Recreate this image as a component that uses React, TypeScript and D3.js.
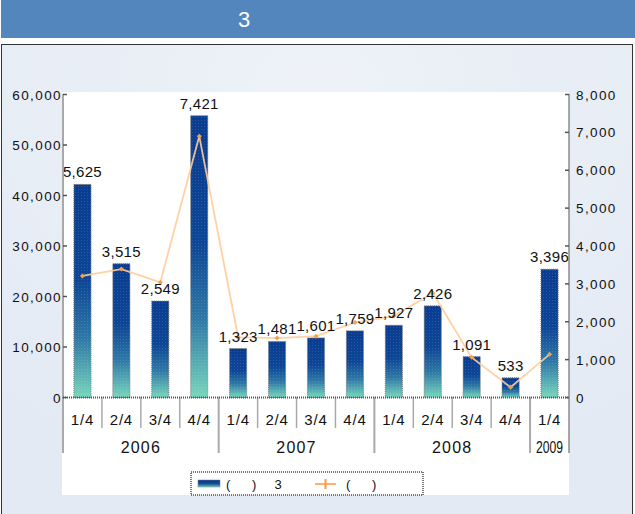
import React from 'react';
import * as d3 from 'd3';

// quarter and year of each category on the x axis
const quarterLabels = ['1/4', '2/4', '3/4', '4/4', '1/4', '2/4', '3/4', '4/4', '1/4', '2/4', '3/4', '4/4', '1/4'];
const yearLabels = ['2006', '2006', '2006', '2006', '2007', '2007', '2007', '2007', '2008', '2008', '2008', '2008', '2009'];

// bars (left axis) and the numbers printed above them
const barValues = [42200, 26500, 19100, 55800, 9700, 11100, 11800, 13200, 14300, 18150, 8100, 3900, 25400];
const barLabels = ['5,625', '3,515', '2,549', '7,421', '1,323', '1,481', '1,601', '1,759', '1,927', '2,426', '1,091', '533', '3,396'];

// line (right axis)
const lineValues = [3210, 3390, 3040, 6900, 1590, 1570, 1620, 1980, 2150, 2760, 1060, 270, 1140];

const leftTicks = [0, 10000, 20000, 30000, 40000, 50000, 60000];
const rightTicks = [0, 1000, 2000, 3000, 4000, 5000, 6000, 7000, 8000];
const legendLabels = ['(      )     3', '(      )'];
const title = '3';

const W = 635;
const H = 514;
const font = '"Liberation Sans", Arial, sans-serif';
const axisColor = '#555';

export default function App() {
  const idx = quarterLabels.map((_, i) => i);
  const x = d3.scaleBand<number>().domain(idx).range([63, 569]).paddingInner(0.56).paddingOuter(0.28);
  const band = x.step();
  const left = 63;
  const right = 569;
  const yL = d3.scaleLinear().domain([0, 60000]).range([397.5, 94.5]);
  const yR = d3.scaleLinear().domain([0, 8000]).range([397.5, 94.5]);
  const fmt = d3.format(',');

  const line = d3
    .line<number>()
    .x((_, i) => (x(i) as number) + x.bandwidth() / 2)
    .y((d) => yR(d));

  // group categories by year for the lower axis row
  const groups: { year: string; start: number; end: number }[] = [];
  yearLabels.forEach((yr, i) => {
    const g = groups[groups.length - 1];
    if (g && g.year === yr) g.end = i;
    else groups.push({ year: yr, start: i, end: i });
  });
  const edge = (i: number) => left + band * i;

  return (
    <svg width={W} height={H} style={{ position: 'absolute', left: 0, top: 0 }} fontFamily={font}>
      <defs>
        <linearGradient id="barGrad" x1="0" y1="0" x2="0" y2="1">
          <stop offset="0%" stopColor="#0a3c90" />
          <stop offset="45%" stopColor="#0d4696" />
          <stop offset="72%" stopColor="#2f78a6" />
          <stop offset="100%" stopColor="#78d6bd" />
        </linearGradient>
        <pattern id="dots" width="3" height="3" patternUnits="userSpaceOnUse">
          <rect x="0" y="0" width="1" height="1" fill="#ffffff" opacity="0.12" />
        </pattern>
        <radialGradient id="panelGrad" cx="0.5" cy="0.1" r="0.8">
          <stop offset="0%" stopColor="#eef2f8" />
          <stop offset="100%" stopColor="#e3eaf4" />
        </radialGradient>
      </defs>

      {/* header */}
      <rect x={1} y={0} width={W - 1} height={38} fill="#5486be" />
      <text x={244} y={27} textAnchor="middle" fill="#fff" fontSize={22}>
        {title}
      </text>

      {/* panel */}
      <rect x={1.5} y={44.5} width={631} height={H} fill="url(#panelGrad)" stroke="#333" strokeWidth={1} />
      <rect x={62} y={92} width={507} height={403} fill="#fff" />

      {/* bars */}
      {barValues.map((v, i) => (
        <g key={'b' + i}>
          <rect
            x={x(i)}
            y={yL(v)}
            width={x.bandwidth()}
            height={yL(0) - yL(v)}
            fill="url(#barGrad)"
            stroke="#7a7a7a"
            strokeWidth={1}
            strokeDasharray="1,1"
          />
          <rect x={x(i)} y={yL(v)} width={x.bandwidth()} height={yL(0) - yL(v)} fill="url(#dots)" />
        </g>
      ))}

      {/* line */}
      <path d={line(lineValues) || ''} fill="none" stroke="#ffcc99" strokeWidth={1.8} opacity={0.9} />
      {lineValues.map((v, i) => {
        const cx = (x(i) as number) + x.bandwidth() / 2;
        const cy = yR(v);
        return <path key={'m' + i} d={`M${cx},${cy - 2.5}L${cx + 2.5},${cy}L${cx},${cy + 2.5}L${cx - 2.5},${cy}Z`} fill="#f5a04a" />;
      })}

      {/* bar labels */}
      {barLabels.map((t, i) => (
        <text
          key={'l' + i}
          x={(x(i) as number) + x.bandwidth() / 2}
          y={yL(barValues[i]) - 7}
          textAnchor="middle"
          fontSize={15}
          letterSpacing={0.3}
          fill="#111"
        >
          {t}
        </text>
      ))}

      {/* left axis */}
      <line x1={left} x2={left} y1={yL(60000)} y2={yL(0)} stroke={axisColor} strokeWidth={2} strokeDasharray="1,1" />
      {leftTicks.map((t) => (
        <g key={'lt' + t}>
          <line x1={left} x2={left + 4} y1={yL(t)} y2={yL(t)} stroke={axisColor} strokeWidth={1.5} />
          <text x={left - 1} y={yL(t) + 5} textAnchor="end" fontSize={13.5} letterSpacing={1.4} fill="#111">
            {fmt(t)}
          </text>
        </g>
      ))}

      {/* right axis */}
      <line x1={right} x2={right} y1={yR(8000)} y2={453} stroke={axisColor} strokeWidth={2} strokeDasharray="1,1" />
      {rightTicks.map((t) => (
        <g key={'rt' + t}>
          <line x1={right - 4} x2={right} y1={yR(t)} y2={yR(t)} stroke={axisColor} strokeWidth={1.5} />
          <text x={right + 7} y={yR(t) + 5} textAnchor="start" fontSize={13.5} letterSpacing={1.4} fill="#111">
            {fmt(t)}
          </text>
        </g>
      ))}

      {/* bottom axis */}
      <line x1={left} x2={right} y1={yL(0)} y2={yL(0)} stroke={axisColor} strokeWidth={2} strokeDasharray="1,1" />
      {quarterLabels.map((q, i) => (
        <g key={'q' + i}>
          {i > 0 && yearLabels[i] === yearLabels[i - 1] && (
            <line x1={edge(i)} x2={edge(i)} y1={yL(0)} y2={428} stroke={axisColor} strokeWidth={1.5} strokeDasharray="1,1" />
          )}
          <text x={(x(i) as number) + x.bandwidth() / 2} y={425} textAnchor="middle" fontSize={15} letterSpacing={0.8} fill="#111">
            {q}
          </text>
        </g>
      ))}
      {groups.map((g) => {
        const narrow = g.end === g.start;
        return (
          <g key={'y' + g.year}>
            <line x1={edge(g.start)} x2={edge(g.start)} y1={yL(0)} y2={453} stroke={axisColor} strokeWidth={2} strokeDasharray="1,1" />
            <text
              x={(edge(g.start) + edge(g.end + 1)) / 2}
              y={453}
              textAnchor="middle"
              fontSize={16}
              letterSpacing={narrow ? 0 : 1.2}
              textLength={narrow ? 27 : undefined}
              lengthAdjust={narrow ? 'spacingAndGlyphs' : undefined}
              fill="#111"
            >
              {g.year}
            </text>
          </g>
        );
      })}

      {/* legend */}
      <g>
        <rect x={191} y={472} width={232} height={23} fill="#fff" stroke="#777" strokeWidth={2} strokeDasharray="1,1" />
        <rect x={198} y={480} width={22} height={7} fill="url(#barGrad)" stroke="#777" strokeWidth={0.5} />
        <text x={226} y={489} fontSize={13} fill="#111" style={{ whiteSpace: 'pre' }}>
          {legendLabels[0]}
        </text>
        <line x1={315} x2={336} y1={484} y2={484} stroke="#ffb06a" strokeWidth={2} />
        <line x1={325.5} x2={325.5} y1={479} y2={489} stroke="#ff9a3c" strokeWidth={2} />
        <text x={346} y={489} fontSize={13} fill="#111" style={{ whiteSpace: 'pre' }}>
          {legendLabels[1]}
        </text>
      </g>
    </svg>
  );
}
